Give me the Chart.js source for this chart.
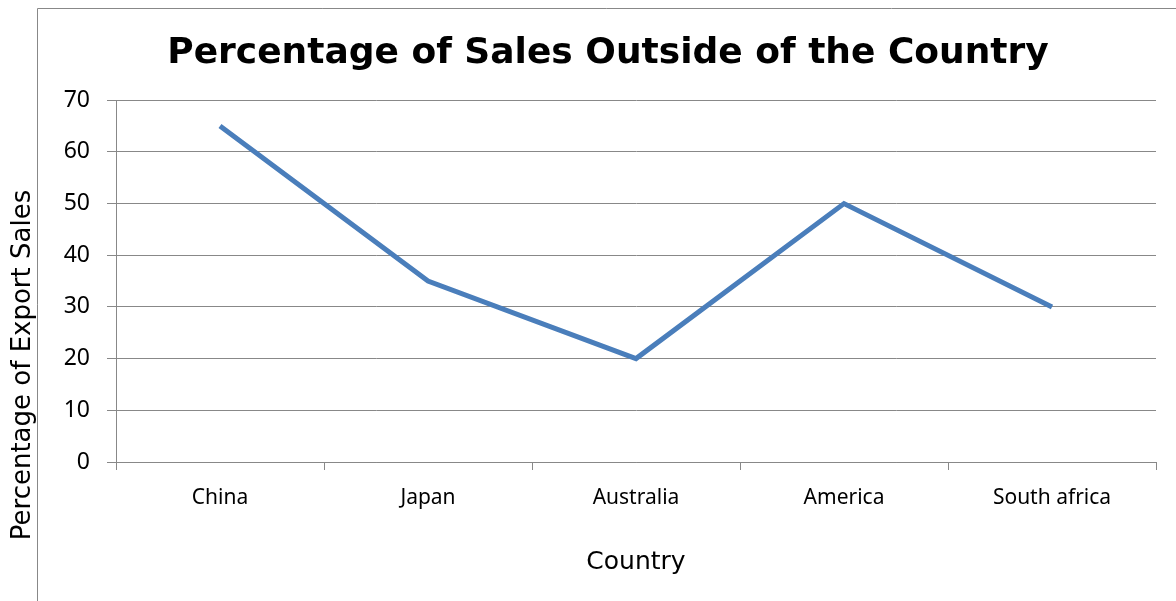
<!DOCTYPE html>
<html>
<head>
<meta charset="utf-8">
<script src="https://cdn.jsdelivr.net/npm/chart.js@4.4.1/dist/chart.umd.min.js"></script>
<style>
  html, body { margin: 0; padding: 0; background: #fff; }
  #wrap { position: relative; width: 1176px; height: 601px; }
</style>
</head>
<body>
<div id="wrap"><canvas id="salesChart" width="1176" height="601"></canvas></div>
<script>
// chart data
var countries = ['China', 'Japan', 'Australia', 'America', 'South africa'];
var exportShare = [65, 35, 20, 50, 30];
var yTicks = [0, 10, 20, 30, 40, 50, 60, 70];

var gridGray = '#888888';

// outer frame + rotated y title (centred on the frame like the original)
var framePlugin = {
    id: 'frame',
    beforeDraw: function(chart) {
        var ctx = chart.ctx;
        ctx.save();
        ctx.strokeStyle = gridGray;
        ctx.lineWidth = 1;
        ctx.beginPath();
        ctx.moveTo(37.5, chart.height);
        ctx.lineTo(37.5, 8.5);
        ctx.lineTo(chart.width, 8.5);
        ctx.stroke();
        ctx.restore();
    },
    afterDraw: function(chart) {
        var ctx = chart.ctx;
        ctx.save();
        ctx.translate(23, 365);
        ctx.rotate(-Math.PI / 2);
        ctx.fillStyle = '#000';
        ctx.font = '26px "DejaVu Sans"';
        ctx.textAlign = 'center';
        ctx.textBaseline = 'middle';
        ctx.fillText('Percentage of Export Sales', 0, 0);
        ctx.restore();
    }
};

new Chart(document.getElementById('salesChart').getContext('2d'), {
    type: 'line',
    data: {
        labels: countries,
        datasets: [{
            label: 'Percentage of Export Sales',
            data: exportShare,
            borderColor: '#4A7EBB',
            borderWidth: 5,
            pointRadius: 0,
            tension: 0,
            fill: false
        }]
    },
    options: {
        responsive: false,
        animation: false,
        layout: { padding: { left: 60, right: 20, top: 8, bottom: 0 } },
        plugins: {
            legend: { display: false },
            tooltip: { enabled: false },
            title: {
                display: true,
                text: 'Percentage of Sales Outside of the Country',
                color: '#000',
                font: { family: '"DejaVu Sans"', size: 36, weight: 'bold', lineHeight: 1.2 },
                padding: { top: 24, bottom: 25 }
            }
        },
        scales: {
            x: {
                offset: true,
                grid: { offset: true, drawOnChartArea: false, drawTicks: true, tickLength: 8, color: gridGray },
                border: { color: gridGray, width: 1 },
                ticks: { color: '#000', font: { family: '"Noto Sans"', size: 21 }, padding: 15, maxRotation: 0 },
                title: {
                    display: true,
                    text: 'Country',
                    color: '#000',
                    font: { family: '"DejaVu Sans"', size: 25, lineHeight: 1.2 },
                    padding: { top: 24, bottom: 24 }
                },
                afterFit: function(scale) { scale.height = 139; }
            },
            y: {
                min: 0,
                max: 70,
                afterBuildTicks: function(scale) {
                    scale.ticks = yTicks.map(function(v) { return { value: v }; });
                },
                grid: { color: gridGray, tickLength: 9 },
                border: { color: gridGray, width: 1 },
                ticks: { color: '#000', font: { family: '"Noto Sans"', size: 23 }, padding: 17 },
                afterFit: function(scale) { scale.width = 56; }
            }
        }
    },
    plugins: [framePlugin]
});
</script>
</body>
</html>
